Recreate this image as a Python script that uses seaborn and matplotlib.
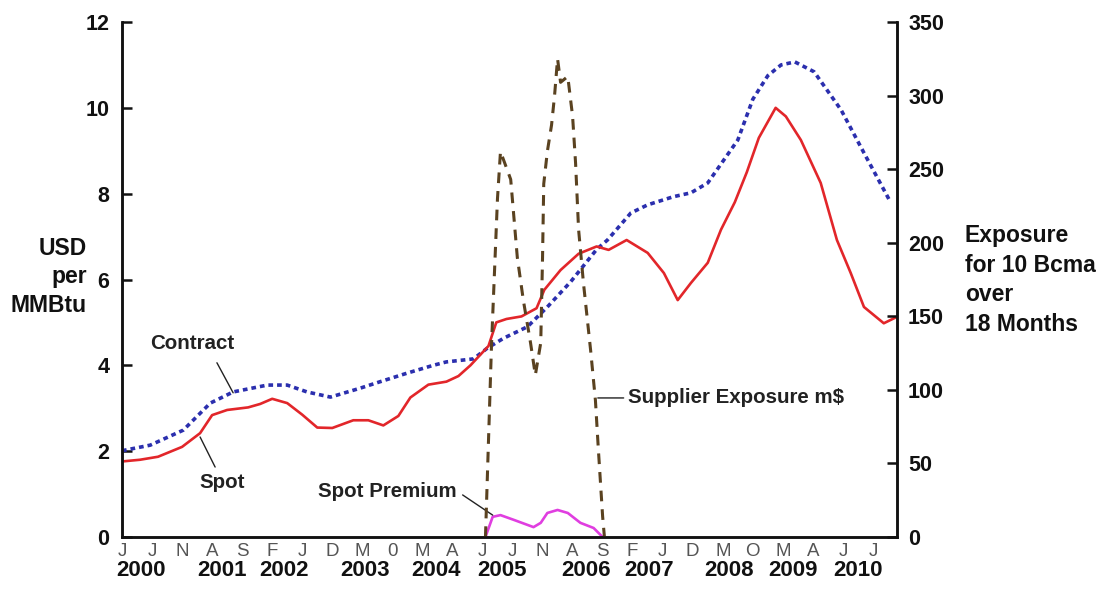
import numpy as np
import pandas as pd
import matplotlib
matplotlib.use("Agg")
import matplotlib.pyplot as plt
import matplotlib.transforms as mtransforms
import seaborn as sns

# ---------------- data (x = months since Jan 2000) ----------------
spot_m = [0, 3, 6, 10, 13, 15, 17.5, 21, 23, 25, 27.5, 30, 32.5, 35, 38.5, 41, 43.5,
          46, 48, 51, 54, 56, 58, 61, 62.3, 64, 66.5, 69, 70.3, 73, 76, 79, 81, 84,
          87.5, 90.2, 92.5, 94.7, 97.5, 99.7, 102, 104, 106, 108.8, 110.5, 113,
          116.3, 119, 121.3, 123.5, 126.8, 129]
spot_v = [1.76, 1.8, 1.87, 2.1, 2.42, 2.84, 2.96, 3.02, 3.1, 3.22, 3.12, 2.85, 2.55,
          2.54, 2.72, 2.72, 2.6, 2.82, 3.25, 3.55, 3.62, 3.75, 4.0, 4.45, 5.0, 5.08,
          5.14, 5.33, 5.76, 6.22, 6.6, 6.77, 6.69, 6.92, 6.62, 6.15, 5.52, 5.92, 6.39,
          7.16, 7.8, 8.5, 9.3, 10.0, 9.8, 9.25, 8.25, 6.92, 6.15, 5.36, 4.98, 5.13]

contract_m = [0, 4.7, 10.2, 14.7, 18.5, 24.2, 27.5, 30.8, 34.7, 39.7, 43, 47.5, 51.8,
              54, 58.5, 60.8, 63.5, 67.5, 70.8, 74.7, 79, 80.8, 84.7, 87.5, 91.8, 94.7,
              97.5, 100.2, 102.5, 105, 107.5, 109.7, 112, 115.2, 119.7, 123.5, 127.7]
contract_v = [2.01, 2.14, 2.49, 3.12, 3.38, 3.54, 3.54, 3.38, 3.26, 3.47, 3.62, 3.82,
              4.0, 4.08, 4.15, 4.4, 4.63, 4.9, 5.36, 5.95, 6.7, 6.92, 7.55, 7.74, 7.93,
              8.02, 8.25, 8.79, 9.25, 10.2, 10.75, 11.0, 11.07, 10.84, 9.95, 8.95, 7.86]

exposure_m = [60.5, 61.5, 62.5, 63, 64.7, 65.8, 66.8, 68, 68.8, 69.7, 70, 70.2, 70.8,
              71.5, 72, 72.5, 73, 74.2, 75, 75.5, 76, 76.8, 78, 78.8, 79.3, 80, 80.3]
exposure_v = [0, 130, 230, 262, 243, 190, 161, 132, 110, 132, 190, 240, 262, 280, 300,
              325, 309, 313, 286, 254, 209, 173, 127, 93, 59, 14, 0]

premium_m = [60.5, 61.7, 63, 65.2, 68.5, 69.7, 70.8, 72.5, 74.2, 76.3, 78.5, 80]
premium_v = [0, 0.47, 0.51, 0.40, 0.23, 0.33, 0.56, 0.63, 0.56, 0.33, 0.21, 0]

month_ticks = list(range(0, 126, 5))
month_labels = ["J", "J", "N", "A", "S", "F", "J", "D", "M", "0", "M", "A", "J",
                "J", "N", "A", "S", "F", "J", "D", "M", "O", "M", "A", "J", "J"]
year_pos = [3.2, 16.7, 27, 40.5, 52.2, 63.3, 77.2, 87.7, 101, 111.7, 122.5]
year_labels = ["2000", "2001", "2002", "2003", "2004", "2005", "2006", "2007",
               "2008", "2009", "2010"]

# ---------------- style ----------------
sns.set_style("white")
plt.rcParams["font.family"] = ["Liberation Sans", "DejaVu Sans"]

fig = plt.figure(figsize=(11.01, 5.90), dpi=100)
ax = fig.add_axes([122 / 1101, 53 / 590, 775 / 1101, 515 / 590])
ax2 = ax.twinx()

sns.lineplot(x=contract_m, y=contract_v, ax=ax, color="#2b2fae", linewidth=2.6,
             linestyle=(0, (1.3, 1.1)))
sns.lineplot(x=spot_m, y=spot_v, ax=ax, color="#e2262a", linewidth=1.9)
sns.lineplot(x=premium_m, y=premium_v, ax=ax, color="#e03ee0", linewidth=1.9)
sns.lineplot(x=exposure_m, y=exposure_v, ax=ax2, color="#5a4220", linewidth=2.2,
             linestyle=(0, (3.5, 2.6)))

ax.set_xlim(0, 129)
ax.set_ylim(0, 12)
ax2.set_ylim(0, 350)

for a in (ax, ax2):
    a.spines["top"].set_visible(False)
    for s in ("left", "right", "bottom"):
        a.spines[s].set_linewidth(1.8)
        a.spines[s].set_color("#111111")

ax.set_yticks(range(0, 13, 2))
ax2.set_yticks(range(0, 351, 50))
ax.tick_params(axis="y", direction="in", length=7, width=1.8, pad=9,
               labelsize=15.5, colors="#111111")
ax2.tick_params(axis="y", direction="in", length=7, width=1.8, pad=8,
                labelsize=15.5, colors="#111111")
for lab in ax.get_yticklabels() + ax2.get_yticklabels():
    lab.set_fontweight("bold")

ax.set_xticks(month_ticks)
ax.set_xticklabels(month_labels)
ax.tick_params(axis="x", direction="in", length=7, width=1.8, pad=4,
               labelsize=13.5, labelcolor="#555555", color="#111111")

trans = mtransforms.blended_transform_factory(ax.transData, ax.transAxes)
for xp, yl in zip(year_pos, year_labels):
    ax.text(xp, -0.066, yl, transform=trans, ha="center", va="center",
            fontsize=16, fontweight="bold", color="#111111")

ax.set_xlabel("")
ax.set_ylabel("")
ax2.set_ylabel("")

fig.text(87 / 1101, 1 - 277 / 590, "USD\nper\nMMBtu", ha="right", va="center",
         multialignment="right", fontsize=16.5, fontweight="bold",
         color="#111111", linespacing=1.3)
fig.text(965 / 1101, 1 - 280 / 590, "Exposure\nfor 10 Bcma\nover\n18 Months",
         ha="left", va="center", multialignment="left", fontsize=16.5,
         fontweight="bold", color="#111111", linespacing=1.36)

# annotations
txt_kw = dict(fontsize=14.8, fontweight="bold", color="#222222", va="center")
line_kw = dict(arrowstyle="-", color="#222222", lw=1.0, shrinkA=0, shrinkB=0)
ax.text(11.7, 4.52, "Contract", ha="center", **txt_kw)
ax.annotate("", xy=(18.5, 3.36), xytext=(15.8, 4.06), arrowprops=line_kw)
ax.text(16.7, 1.28, "Spot", ha="center", **txt_kw)
ax.annotate("", xy=(13.0, 2.33), xytext=(15.5, 1.63), arrowprops=line_kw)
ax.text(44.2, 1.05, "Spot Premium", ha="center", **txt_kw)
ax.annotate("", xy=(61.7, 0.51), xytext=(56.7, 0.98), arrowprops=line_kw)
ax.text(84.2, 3.24, "Supplier Exposure m$", ha="left", **txt_kw)
ax.annotate("", xy=(79.2, 3.24), xytext=(83.5, 3.24), arrowprops=line_kw)

fig.savefig("out.png", dpi=100, facecolor="white")
